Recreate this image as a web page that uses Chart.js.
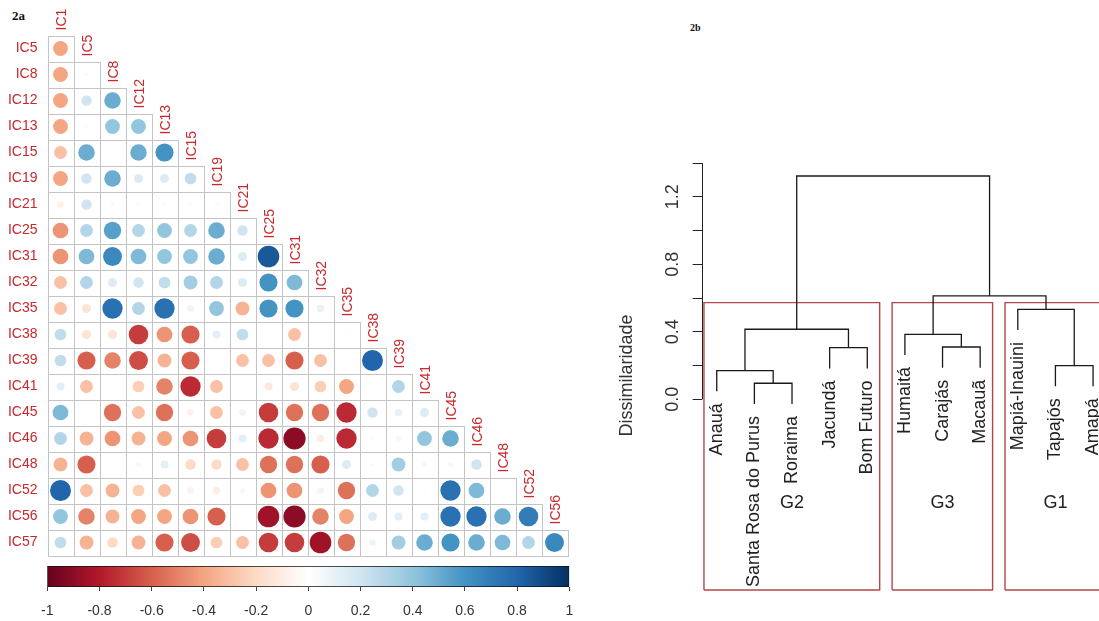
<!DOCTYPE html>
<html>
<head>
<meta charset="utf-8">
<script src="https://cdn.jsdelivr.net/npm/chart.js@4.4.1/dist/chart.umd.min.js"></script>
<style>
	body { margin: 0; background: #fff; width: 1099px; height: 621px; overflow: hidden; position: relative; }
	canvas { position: absolute; }
	#painelA { left: 0; top: 0; }
	#barraCores { left: 0; top: 555px; }
	#painelB { left: 600px; top: 0; }
	.rotulo { position: absolute; font-family: "Liberation Serif", "DejaVu Serif", serif; font-weight: bold; color: #111; }
</style>
</head>
<body>
<div class="rotulo" style="left:12px;top:8px;font-size:13px">2a</div>
<div class="rotulo" style="left:690px;top:22px;font-size:10px">2b</div>
<canvas id="painelA" width="600" height="560"></canvas>
<canvas id="barraCores" width="600" height="66"></canvas>
<canvas id="painelB" width="499" height="621"></canvas>
<script>
// ---------- dados 2a (correlações, triângulo inferior) ----------
var nomesIC = ["IC1", "IC5", "IC8", "IC12", "IC13", "IC15", "IC19", "IC21", "IC25", "IC31", "IC32",
	"IC35", "IC38", "IC39", "IC41", "IC45", "IC46", "IC48", "IC52", "IC56", "IC57"];

var ic5 = [-0.4];
var ic8 = [-0.4, 0.03];
var ic12 = [-0.4, 0.2, 0.5];
var ic13 = [-0.4, 0.03, 0.4, 0.4];
var ic15 = [-0.3, 0.5, 0, 0.5, 0.6];
var ic19 = [-0.4, 0.2, 0.5, 0.15, 0.15, 0.25];
var ic21 = [-0.08, 0.2, 0.03, -0.03, 0.03, 0.02, -0.03];
var ic25 = [-0.45, 0.3, 0.55, 0.3, 0.4, 0.3, 0.5, 0.2];
var ic31 = [-0.45, 0.45, 0.65, 0.45, 0.4, 0.4, 0.5, 0.15, 0.85];
var ic32 = [-0.3, 0.3, 0.15, 0.2, 0.25, 0.35, 0.3, 0.15, 0.6, 0.45];
var ic35 = [-0.3, -0.15, 0.75, 0.3, 0.75, 0.08, 0.4, -0.35, 0.6, 0.6, 0.1];
var ic38 = [0.25, -0.15, -0.15, -0.7, -0.45, -0.6, 0.12, 0.25, 0, -0.3, 0.02, 0.02];
var ic39 = [0.25, -0.6, -0.5, -0.65, -0.35, -0.6, 0.02, -0.3, -0.3, -0.6, -0.3, 0.02, 0.8];
var ic41 = [0.12, -0.3, 0, -0.25, -0.5, -0.75, -0.3, 0, -0.12, -0.15, -0.25, -0.4, 0.02, 0.3];
var ic45 = [0.45, 0, -0.55, -0.3, -0.55, -0.08, -0.3, 0.08, -0.7, -0.55, -0.55, -0.75, 0.2, 0.1, 0.15];
var ic46 = [0.3, -0.35, -0.45, -0.35, -0.4, -0.45, -0.7, 0.12, -0.75, -0.9, -0.1, -0.75, 0.02, 0.05, 0.4, 0.5];
var ic48 = [-0.35, -0.6, 0, -0.05, 0.12, -0.2, -0.2, -0.3, -0.55, -0.55, -0.6, 0.15, 0.03, 0.35, 0.05, 0.05, 0.2];
var ic52 = [0.8, -0.3, -0.35, -0.25, -0.3, -0.08, -0.1, 0.05, -0.45, -0.45, -0.08, -0.55, 0.3, 0.2, 0.02, 0.75, 0.45, 0];
var ic56 = [0.4, -0.5, -0.35, -0.4, -0.4, -0.45, -0.6, 0, -0.85, -0.9, -0.5, -0.4, 0.15, 0.12, 0.12, 0.75, 0.75, 0.5, 0.7];
var ic57 = [0.25, -0.35, -0.2, -0.35, -0.6, -0.65, -0.25, -0.3, -0.7, -0.7, -0.85, -0.55, 0.08, 0.35, 0.5, 0.6, 0.5, 0.45, 0.3, 0.65];

var linhasCorr = [ic5, ic8, ic12, ic13, ic15, ic19, ic21, ic25, ic31, ic32, ic35, ic38, ic39, ic41, ic45, ic46, ic48, ic52, ic56, ic57];

// legenda de cores
var marcasLegenda = [-1, -0.8, -0.6, -0.4, -0.2, 0, 0.2, 0.4, 0.6, 0.8, 1];

// ---------- dados 2b (dendrograma) ----------
var folhas = ["Anauá", "Santa Rosa do Purus", "Roraima", "Jacundá", "Bom Futuro", "Humaitá",
	"Carajás", "Macauã", "Mapiá-Inauini", "Tapajós", "Amapá"];
// estilo R: negativo = folha (posição), positivo = junção anterior
var juntaEsq = [-2, -1, -10, -4, -7, -6, 2, -9, 6, 7];
var juntaDir = [-3, 1, -11, -5, -8, 5, 4, 3, 8, 9];
var alturas = [0.095, 0.17, 0.2, 0.306, 0.31, 0.385, 0.415, 0.533, 0.613, 1.323];

var grupos = ["G2", "G3", "G1"];
var grupoInicio = [1, 6, 9];
var grupoFim = [5, 8, 11];

var marcasDissim = [0, 0.2, 0.4, 0.6, 0.8, 1.0, 1.2, 1.4];
var rotulosDissim = ["0.0", "", "0.4", "", "0.8", "", "1.2", ""];

// ---------- cores RdBu (corrplot) ----------
var paletaRdBu = ["#67001F", "#B2182B", "#D6604D", "#F4A582", "#FDDBC7", "#FFFFFF",
	"#D1E5F0", "#92C5DE", "#4393C3", "#2166AC", "#053061"];

function hexRgb(h) {
	return [parseInt(h.slice(1, 3), 16), parseInt(h.slice(3, 5), 16), parseInt(h.slice(5, 7), 16)];
}

function corDoValor(v) {
	var t = ((v + 1) / 2) * (paletaRdBu.length - 1);
	var i = Math.min(Math.floor(t), paletaRdBu.length - 2);
	var f = t - i;
	var a = hexRgb(paletaRdBu[i]);
	var b = hexRgb(paletaRdBu[i + 1]);
	return "rgb(" + Math.round(a[0] + (b[0] - a[0]) * f) + "," + Math.round(a[1] + (b[1] - a[1]) * f) + "," + Math.round(a[2] + (b[2] - a[2]) * f) + ")";
}

var fonteTexto = "'Liberation Sans', Arial, sans-serif";
var vermelhoRotulo = "#c8282d";

// ================= 2a =================
var pontosCorr = [];
for (var r = 0; r < linhasCorr.length; r++) {
	for (var c = 0; c < linhasCorr[r].length; c++) {
		pontosCorr.push({ x: c, y: r, v: linhasCorr[r][c] });
	}
}

function tamanhoCelula(chart) {
	var sx = chart.scales.x;
	return sx.getPixelForValue(1) - sx.getPixelForValue(0);
}

// grade em escada + nomes das colunas
var gradeCorr = {
	id: "gradeCorr",
	beforeDatasetsDraw(chart) {
		var ctx = chart.ctx;
		var sx = chart.scales.x;
		var sy = chart.scales.y;
		ctx.save();
		ctx.strokeStyle = "#c4c4c4";
		ctx.lineWidth = 1;
		for (var r = 0; r < linhasCorr.length; r++) {
			for (var c = 0; c <= r; c++) {
				var x0 = Math.round(sx.getPixelForValue(c - 0.5)) + 0.5;
				var x1 = Math.round(sx.getPixelForValue(c + 0.5)) + 0.5;
				var y0 = Math.round(sy.getPixelForValue(r - 0.5)) + 0.5;
				var y1 = Math.round(sy.getPixelForValue(r + 0.5)) + 0.5;
				ctx.strokeRect(x0, y0, x1 - x0, y1 - y0);
			}
		}
		ctx.restore();
	},
	afterDraw(chart) {
		var ctx = chart.ctx;
		var sx = chart.scales.x;
		var sy = chart.scales.y;
		ctx.save();
		ctx.fillStyle = vermelhoRotulo;
		ctx.font = "14px " + fonteTexto;
		ctx.textAlign = "left";
		ctx.textBaseline = "middle";
		for (var c = 0; c < linhasCorr.length; c++) {
			ctx.save();
			ctx.translate(sx.getPixelForValue(c) + 1.5, sy.getPixelForValue(c - 0.5) - 5);
			ctx.rotate(-Math.PI / 2);
			ctx.fillText(nomesIC[c], 0, 0);
			ctx.restore();
		}
		ctx.restore();
	},
};

new Chart(document.getElementById("painelA"), {
	type: "scatter",
	data: {
		datasets: [
			{
				data: pontosCorr,
				pointStyle: "circle",
				pointRadius: (ctx) => {
					if (!ctx.raw) return 0;
					return tamanhoCelula(ctx.chart) * 0.45 * Math.sqrt(Math.abs(ctx.raw.v));
				},
				pointBackgroundColor: (ctx) => (ctx.raw ? corDoValor(ctx.raw.v) : "#fff"),
				pointBorderWidth: 0,
				showLine: false,
			},
		],
	},
	options: {
		responsive: false,
		animation: false,
		events: [],
		layout: { padding: { top: 35.5, bottom: 4.5, right: 32.5, left: 0 } },
		plugins: { legend: { display: false }, tooltip: { enabled: false } },
		scales: {
			x: { type: "linear", min: -0.5, max: 19.5, display: false },
			y: {
				type: "linear",
				min: -0.5,
				max: 19.5,
				reverse: true,
				afterBuildTicks: (s) => {
					s.ticks = linhasCorr.map((_, i) => ({ value: i }));
				},
				afterFit: (s) => {
					s.width = 47.5;
					s.paddingTop = 0;
					s.paddingBottom = 0;
				},
				ticks: {
					autoSkip: false,
					padding: 10,
					color: vermelhoRotulo,
					font: { size: 14, family: fonteTexto },
					callback: (v) => nomesIC[v + 1],
				},
				grid: { display: false, drawTicks: false },
				border: { display: false },
			},
		},
	},
	plugins: [gradeCorr],
});

// barra de cores
new Chart(document.getElementById("barraCores"), {
	type: "bar",
	data: {
		labels: [""],
		datasets: [
			{
				data: [[marcasLegenda[0], marcasLegenda[marcasLegenda.length - 1]]],
				backgroundColor: (ctx) => {
					var area = ctx.chart.chartArea;
					if (!area) return "#fff";
					var g = ctx.chart.ctx.createLinearGradient(area.left, 0, area.right, 0);
					for (var i = 0; i < paletaRdBu.length; i++) {
						g.addColorStop(i / (paletaRdBu.length - 1), paletaRdBu[i]);
					}
					return g;
				},
				borderColor: "#111",
				borderWidth: 1,
				borderSkipped: false,
				barPercentage: 1,
				categoryPercentage: 1,
			},
		],
	},
	options: {
		responsive: false,
		animation: false,
		events: [],
		indexAxis: "y",
		layout: { padding: { top: 11, left: 47.3, right: 30.7, bottom: 0 } },
		plugins: { legend: { display: false }, tooltip: { enabled: false } },
		scales: {
			x: {
				type: "linear",
				min: -1,
				max: 1,
				afterBuildTicks: (s) => {
					s.ticks = marcasLegenda.map((v) => ({ value: v }));
				},
				afterFit: (s) => {
					s.height = 34;
				},
				ticks: {
					autoSkip: false,
					maxRotation: 0,
					padding: 12,
					color: "#333",
					font: { size: 14, family: fonteTexto },
					callback: (v) => String(Math.round(v * 10) / 10),
				},
				grid: { drawOnChartArea: false, tickLength: 4, color: "#444" },
				border: { display: false },
			},
			y: { display: false },
		},
	},
});

// ================= 2b =================
var n = folhas.length;
var hang = 0.1 * (Math.max(...alturas) - Math.min(...alturas));
var xNo = [];

function xDe(ref) {
	return ref < 0 ? -ref : xNo[ref - 1];
}
function baseDe(ref, h) {
	return ref < 0 ? h - hang : alturas[ref - 1];
}

var conjuntos = [];
for (var m = 0; m < alturas.length; m++) {
	var a = juntaEsq[m];
	var b = juntaDir[m];
	var h = alturas[m];
	var xa = xDe(a);
	var xb = xDe(b);
	xNo.push((xa + xb) / 2);
	conjuntos.push({
		data: [
			{ x: xa, y: baseDe(a, h) },
			{ x: xa, y: h },
			{ x: xb, y: h },
			{ x: xb, y: baseDe(b, h) },
		],
		showLine: true,
		borderColor: "#1a1a1a",
		borderWidth: 1.3,
		pointRadius: 0,
		tension: 0,
		clip: false,
	});
}

var yMinDendro = -1.13;
var ordenadas = alturas.slice().sort((p, q) => p - q);
var topoCaixa = (ordenadas[ordenadas.length - grupos.length] + ordenadas[ordenadas.length - grupos.length + 1]) / 2;

for (var g = 0; g < grupos.length; g++) {
	var x0 = grupoInicio[g] - 0.34;
	var x1 = grupoFim[g] + 0.33;
	conjuntos.push({
		data: [
			{ x: x0, y: yMinDendro },
			{ x: x0, y: topoCaixa },
			{ x: x1, y: topoCaixa },
			{ x: x1, y: yMinDendro },
			{ x: x0, y: yMinDendro },
		],
		showLine: true,
		borderColor: "#b5474a",
		borderWidth: 1.4,
		pointRadius: 0,
		tension: 0,
		clip: false,
	});
}

var textosDendro = {
	id: "textosDendro",
	afterDraw(chart) {
		var ctx = chart.ctx;
		var sx = chart.scales.x;
		var sy = chart.scales.y;
		ctx.save();
		// linha do eixo, só de 0 a 1.4
		ctx.strokeStyle = "#222";
		ctx.lineWidth = 1;
		var xe = Math.round(chart.chartArea.left) + 0.5;
		ctx.beginPath();
		ctx.moveTo(xe, sy.getPixelForValue(marcasDissim[0]));
		ctx.lineTo(xe, sy.getPixelForValue(marcasDissim[marcasDissim.length - 1]));
		ctx.stroke();

		// nomes das folhas
		ctx.fillStyle = "#222";
		ctx.font = "18px " + fonteTexto;
		ctx.textAlign = "right";
		ctx.textBaseline = "middle";
		for (var i = 1; i <= n; i++) {
			var m = juntaEsq.indexOf(-i);
			if (m < 0) m = juntaDir.indexOf(-i);
			var base = alturas[m] - hang;
			ctx.save();
			ctx.translate(sx.getPixelForValue(i), sy.getPixelForValue(base) + 12);
			ctx.rotate(-Math.PI / 2);
			ctx.fillText(folhas[i - 1], 0, 0);
			ctx.restore();
		}

		// nomes dos grupos
		ctx.textAlign = "center";
		for (var g = 0; g < grupos.length; g++) {
			var meio = Math.round((grupoInicio[g] + grupoFim[g]) / 2);
			ctx.fillText(grupos[g], sx.getPixelForValue(meio), sy.getPixelForValue(-0.615));
		}
		ctx.restore();
	},
};

new Chart(document.getElementById("painelB"), {
	type: "scatter",
	data: { datasets: conjuntos },
	options: {
		responsive: false,
		animation: false,
		events: [],
		layout: { padding: { top: 161, bottom: 31, left: 0, right: 0 } },
		plugins: { legend: { display: false }, tooltip: { enabled: false } },
		scales: {
			x: { type: "linear", min: 0.6, max: 11.158, display: false },
			y: {
				type: "linear",
				min: yMinDendro,
				max: 1.412,
				afterBuildTicks: (s) => {
					s.ticks = marcasDissim.map((v) => ({ value: v }));
				},
				afterFit: (s) => {
					s.width = 101.7;
				},
				ticks: {
					autoSkip: false,
					minRotation: 90,
					maxRotation: 90,
					crossAlign: "center",
					padding: 7,
					color: "#333",
					font: { size: 18, family: fonteTexto },
					callback: (v, i) => rotulosDissim[i],
				},
				grid: { drawOnChartArea: false, tickLength: 9, color: "#222" },
				border: { display: false },
				title: {
					display: true,
					text: "Dissimilaridade",
					color: "#333",
					font: { size: 18, family: fonteTexto },
					padding: { top: 16, bottom: 0 },
				},
			},
		},
	},
	plugins: [textosDendro],
});
</script>
</body>
</html>
